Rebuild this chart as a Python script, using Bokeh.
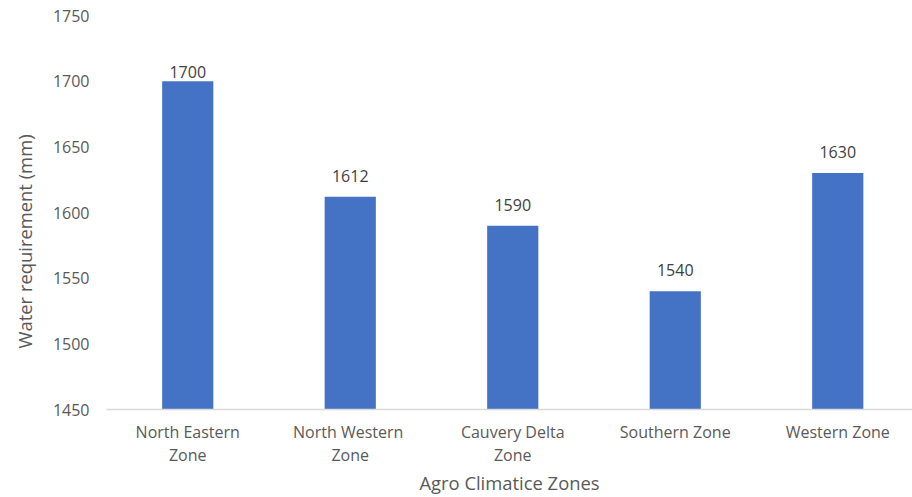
from bokeh.plotting import figure
from bokeh.models import Range1d, FixedTicker, Title, ColumnDataSource, LabelSet
from bokeh.core.properties import value
from bokeh.embed import file_html
from bokeh.resources import INLINE

# Water requirement by agro-climatic zone
zones = ["North Eastern\nZone", "North  Western\nZone", "Cauvery Delta\nZone",
         "Southern Zone", "Western Zone"]
water_mm = [1700, 1612, 1590, 1540, 1630]
# vertical gap (px) between each bar top and its value label
label_gap = [3, 15, 15, 15, 15]

FONT = "Open Sans"
TICK_COLOR = "#595959"
BAR_COLOR = "#4472C4"

idx = list(range(len(zones)))
src = ColumnDataSource(dict(
    x=idx, top=water_mm, txt=[str(v) for v in water_mm], off=label_gap,
))

p = figure(width=912, height=497, output_backend="svg", toolbar_location=None,
           x_range=Range1d(-0.5, 4.46), y_range=Range1d(1450, 1750),
           frame_width=806, frame_height=394,
           min_border_left=106, min_border_right=0, min_border_top=15,
           min_border_bottom=88)
p.outline_line_color = None
p.grid.visible = False
p.background_fill_color = "white"
p.border_fill_color = "white"

p.vbar(x="x", top="top", bottom=1450, width=0.315, source=src,
       fill_color=BAR_COLOR, line_color=None)

labels = LabelSet(x="x", y="top", text="txt", y_offset="off", source=src,
                  text_align="center", text_baseline="bottom",
                  text_font=value(FONT), text_font_size="16px", text_color="#404040")
p.add_layout(labels)

# x axis
xa = p.xaxis[0]
xa.ticker = FixedTicker(ticks=idx)
xa.major_label_overrides = {i: z for i, z in enumerate(zones)}
xa.major_label_text_font = FONT
xa.major_label_text_font_size = "16px"
xa.major_label_text_color = TICK_COLOR
xa.major_label_text_line_height = 1.08
xa.major_label_standoff = 5
xa.major_tick_line_color = None
xa.minor_tick_line_color = None
xa.axis_line_color = "#D9D9D9"
xa.axis_line_width = 1.5
xa.axis_label = "Agro Climatice Zones"
xa.axis_label_text_font = FONT
xa.axis_label_text_font_size = "18.4px"
xa.axis_label_text_font_style = "normal"
xa.axis_label_text_color = TICK_COLOR
xa.axis_label_standoff = 1

# y axis
ya = p.yaxis[0]
ya.ticker = FixedTicker(ticks=[1450, 1500, 1550, 1600, 1650, 1700, 1750])
ya.major_label_text_font = FONT
ya.major_label_text_font_size = "16px"
ya.major_label_text_color = TICK_COLOR
ya.major_label_standoff = 17
ya.major_tick_out = 0
ya.major_tick_in = 0
ya.major_tick_line_color = None
ya.minor_tick_out = 0
ya.minor_tick_line_color = None
ya.axis_line_color = None

# y-axis title, anchored near the bottom of the plot area
ytitle = Title(text="Water requirement (mm)", align="left", offset=61,
               vertical_align="top",
               text_font=FONT, text_font_size="18.4px", text_font_style="normal",
               text_color=TICK_COLOR, standoff=22)
p.add_layout(ytitle, "left")

open("out.html", "w").write(file_html(p, INLINE))
